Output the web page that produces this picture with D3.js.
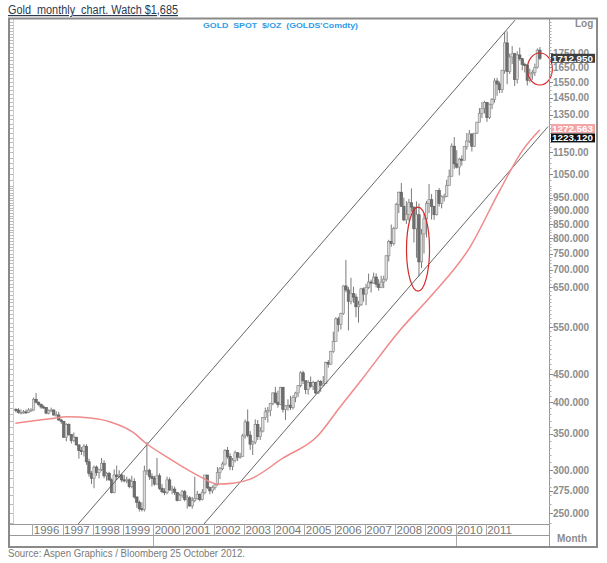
<!DOCTYPE html>
<html><head><meta charset="utf-8">
<script src="https://cdn.jsdelivr.net/npm/d3@7"></script>
<style>
body{margin:0;background:#fff;}
svg{display:block;font-family:Arial,"Liberation Sans",sans-serif;}
</style>
</head><body>
<svg id="c" width="607" height="563"></svg>
<script>
// ---------- DATA ----------
const startYear = 1995, startMonth = 6;   // first candle: June 1995
const firstOpen = 388;
const closes = [
 387,383,383,384,383,387,387,
 405,400,396,392,391,382,386,387,379,379,371,369,
 345,364,349,340,345,334,326,325,332,311,296,290,
 304,297,301,309,293,296,288,273,294,292,294,288,
 287,288,280,286,268,262,255,254,299,300,292,290,
 283,293,278,274,273,288,276,277,273,264,270,274,
 265,267,258,264,266,271,265,273,294,279,275,279,
 282,297,302,308,326,318,305,313,323,317,318,347,
 368,348,335,338,364,346,354,375,384,386,398,416,
 400,396,426,388,394,395,391,408,416,429,453,438,
 422,435,428,435,416,437,430,433,473,470,496,517,
 569,556,582,654,643,613,633,624,599,604,646,632,
 650,665,662,679,659,650,665,673,743,789,783,834,
 923,972,916,865,885,930,913,833,884,724,815,869,
 927,942,916,884,979,927,954,955,1001,1040,1181,1096,
 1081,1118,1113,1179,1207,1244,1181,1248,1307,1357,1386,1421,
 1333,1410,1439,1556,1536,1500,1628,1828,1620,1722,1746,1566,
 1737,1710,1669,1664,1561,1604,1614,1648,1773,1713];
const highs = [
 390,390,388,387,388,390,390,
 408,416,401,398,395,391,388,391,388,385,384,373,
 369,366,366,349,352,345,334,331,335,335,315,299,
 306,306,302,316,313,298,298,290,301,306,300,296,
 294,292,290,293,290,268,264,262,306,338,302,296,
 293,316,296,283,278,292,291,281,280,273,272,276,
 276,270,269,268,292,275,272,277,294,294,280,281,
 284,304,304,311,328,331,322,316,326,324,323,350,
 372,388,354,340,372,371,360,375,391,392,399,417,
 427,420,427,427,395,405,411,412,418,430,456,457,
 438,439,446,438,436,440,439,447,475,478,497,539,
 573,574,584,656,730,651,677,652,633,614,649,650,
 660,689,672,692,690,673,683,683,745,795,848,840,
 930,975,1011,950,936,945,988,915,935,927,832,888,
 937,1007,965,917,980,990,960,966,1025,1070,1195,1227,
 1161,1125,1136,1181,1249,1265,1245,1249,1310,1387,1424,1431,
 1424,1414,1448,1575,1577,1552,1632,1912,1921,1747,1803,1753,
 1764,1792,1714,1681,1670,1640,1631,1674,1786,1796];
const lows = [
 383,381,380,381,381,382,384,
 386,398,394,389,389,380,380,384,378,377,370,365,
 344,339,347,336,338,333,315,320,318,307,292,283,
 278,293,290,299,290,287,287,272,272,288,290,285,
 285,284,278,278,266,256,252,252,252,294,288,280,
 281,282,276,272,270,271,275,271,270,263,264,267,
 263,255,257,255,262,265,263,264,271,277,271,272,
 276,281,289,300,306,315,300,300,310,312,315,318,
 343,345,327,320,335,341,341,352,371,367,377,395,
 398,391,395,383,371,386,387,388,400,409,426,432,
 414,413,425,421,414,414,418,428,432,463,468,493,
 517,539,544,579,637,542,605,609,573,560,601,612,
 603,646,636,660,650,641,648,648,667,725,772,776,
 832,890,916,860,850,862,895,786,737,681,705,750,
 803,890,866,865,881,915,908,935,953,1000,1040,1073,
 1075,1044,1088,1113,1164,1197,1155,1178,1243,1306,1330,1356,
 1309,1325,1381,1420,1462,1478,1480,1605,1535,1603,1671,1523,
 1540,1695,1628,1613,1527,1547,1564,1589,1640,1700];

// moving average
const maDates  = [1995.44,1996.6,1997.16,1997.92,1998.58,1999.34,1999.74,2000.46,2000.99,2001.55,2002.12,2002.64,2003.21,2004.30,2005.42,2006.18,2006.84,2008.17,2009.16,2010.48,2011.47,2012.23,2012.79];
const maValues = [366,373,376,374,368,352,337,317,304,292,283,284,289,316,346,392,436,543,624,771,981,1163,1266];

// trend channel
const upperDates = [1997.49, 2011.97], upperValues = [238, 2013];
const lowerDates = [2001.65, 2013.06], lowerValues = [238, 1283];

// ellipse annotations (centre date / price)
const noteDates = [2008.76, 2012.79], noteValues = [764, 1637];

const yearLabels = [1996,1997,1998,1999,2000,2001,2002,2003,2004,2005,2006,2007,2008,2009,2010,2011];
const decadeMarks = [2000, 2010];
const priceTicks = [1750,1650,1550,1450,1350,1150,1050,950,900,850,800,750,700,650,550,450,400,350,300,275,250];
const priceTickLabels = ["1750.00","1650.00","1550.00","1450.00","1350.00","1150.00","1050.00","950.000","900.000","850.000","800.000","750.000","700.000","650.000","550.000","450.000","400.000","350.000","300.000","275.000","250.000"];
const boxValues = [1712.95, 1272.563, 1223.12];
const boxLabels = ["1712.950", "1272.563", "1223.120"];

// ---------- LAYOUT ----------
const svg = d3.select("#c");
const L = 14, R = 549, T = 18, B = 524;
const x = d3.scaleLinear().domain([1995.395, 2013.093]).range([L, R]);
const y = d3.scaleLog().domain([239, 2031]).range([B, T]);

svg.append("defs").append("clipPath").attr("id","plot")
  .append("rect").attr("x",L).attr("y",T).attr("width",R-L).attr("height",B-T);

// title
svg.append("text").attr("x",8).attr("y",14).attr("font-size",12)
  .attr("fill","#2c3850").attr("text-decoration","underline")
  .attr("textLength",170).attr("lengthAdjust","spacingAndGlyphs")
  .style("white-space","pre").text("Gold  monthly  chart. Watch $1,685");

// header
svg.append("text").attr("x",203).attr("y",28).attr("font-size",8).attr("font-weight","bold")
  .attr("fill","#2f9be8").attr("textLength",155).attr("lengthAdjust","spacingAndGlyphs")
  .style("white-space","pre").text("GOLD  SPOT  $/OZ  (GOLDS'Comdty)");

// source
svg.append("text").attr("x",8).attr("y",557).attr("font-size",10).attr("fill","#7a7a7a")
  .attr("textLength",237).attr("lengthAdjust","spacingAndGlyphs")
  .text("Source: Aspen Graphics / Bloomberg 25 October 2012.");

// candles
const candles = closes.map((c,i)=>{
  const m = startMonth - 1 + i;
  const t = startYear + (m + 0.5)/12;
  return {t, o: i===0 ? firstOpen : closes[i-1], h: highs[i], l: lows[i], c};
});
const g = svg.append("g").attr("clip-path","url(#plot)");
const bw = 2.4;
g.selectAll("line.wick").data(candles).join("line").attr("class","wick")
  .attr("x1",d=>x(d.t)).attr("x2",d=>x(d.t))
  .attr("y1",d=>y(d.h)).attr("y2",d=>y(d.l))
  .attr("stroke","#7a7a7a").attr("stroke-width",1);
g.selectAll("rect.body").data(candles).join("rect").attr("class","body")
  .attr("x",d=>x(d.t)-bw/2).attr("width",bw)
  .attr("y",d=>y(Math.max(d.o,d.c)))
  .attr("height",d=>Math.max(1, y(Math.min(d.o,d.c))-y(Math.max(d.o,d.c))))
  .attr("fill",d=>d.c>=d.o ? "#dcdcdc" : "#707070")
  .attr("stroke",d=>d.c>=d.o ? "#8e8e8e" : "#5e5e5e").attr("stroke-width",0.7);

// channel lines
[[upperDates,upperValues],[lowerDates,lowerValues]].forEach(([ds,vs])=>{
  g.append("line").attr("x1",x(ds[0])).attr("y1",y(vs[0])).attr("x2",x(ds[1])).attr("y2",y(vs[1]))
    .attr("stroke","#555").attr("stroke-width",0.9);
});

// moving average
g.append("path").datum(maDates.map((d,i)=>[d,maValues[i]]))
  .attr("d", d3.line().x(d=>x(d[0])).y(d=>y(d[1])).curve(d3.curveMonotoneX))
  .attr("fill","none").attr("stroke","#f08a8a").attr("stroke-width",1.5);

// ellipses
const ell = [[11.5,42],[12.5,16]];
noteDates.forEach((d,i)=>{
  svg.append("ellipse").attr("cx",x(d)).attr("cy",y(noteValues[i]))
    .attr("rx",ell[i][0]).attr("ry",ell[i][1])
    .attr("fill","none").attr("stroke","#d42a2a").attr("stroke-width",1.2);
});

// right axis
const axG = svg.append("g");
axG.append("line").attr("x1",R+0.5).attr("x2",R+0.5).attr("y1",T).attr("y2",547).attr("stroke","#999");
const minor = [];
for (let v=240; v<1000; v+=10) minor.push(v);
for (let v=1000; v<=2000; v+=25) minor.push(v);
axG.selectAll("line.mn").data(minor.filter(v=>y(v)>=T&&y(v)<=B)).join("line").attr("class","mn")
  .attr("x1",R).attr("x2",R+2.5).attr("y1",d=>Math.round(y(d))+0.5).attr("y2",d=>Math.round(y(d))+0.5)
  .attr("stroke","#aaa");
axG.selectAll("line.mj").data(priceTicks).join("line").attr("class","mj")
  .attr("x1",R).attr("x2",R+4).attr("y1",d=>Math.round(y(d))+0.5).attr("y2",d=>Math.round(y(d))+0.5)
  .attr("stroke","#888");
axG.selectAll("text.pl").data(priceTicks).join("text").attr("class","pl")
  .attr("x",R+4).attr("y",d=>y(d)).attr("dy","0.36em")
  .attr("font-size",10).attr("font-weight","bold").attr("fill","#8c8c8c")
  .text((d,i)=>priceTickLabels[i]);

// left tick strip
svg.append("line").attr("x1",13.5).attr("x2",13.5).attr("y1",T).attr("y2",B).attr("stroke","#ccc");
svg.selectAll("line.lt").data(minor.filter(v=>y(v)>=T&&y(v)<=B)).join("line").attr("class","lt")
  .attr("x1",10).attr("x2",13).attr("y1",d=>Math.round(y(d))+0.5).attr("y2",d=>Math.round(y(d))+0.5)
  .attr("stroke","#bbb");

// value boxes
const boxFill = ["#3d3d3d","#f4a4a4","#111111"];
boxValues.forEach((v,i)=>{
  const cy = y(v);
  svg.append("rect").attr("x",R+2).attr("y",cy-4.5).attr("width",44).attr("height",9).attr("fill",boxFill[i]);
  svg.append("text").attr("x",R+3).attr("y",cy).attr("dy","0.36em")
    .attr("font-size",9.5).attr("font-weight","bold").attr("fill","#fff")
    .attr("textLength",41).attr("lengthAdjust","spacingAndGlyphs").text(boxLabels[i]);
});

svg.append("text").attr("x",575).attr("y",27).attr("font-size",10).attr("font-weight","bold")
  .attr("fill","#8c8c8c").text("Log");
svg.append("text").attr("x",557).attr("y",542).attr("font-size",10).attr("font-weight","bold")
  .attr("fill","#8c8c8c").text("Month");

// x axis band
svg.append("line").attr("x1",9).attr("x2",R).attr("y1",524.5).attr("y2",524.5).attr("stroke","#999");
svg.append("line").attr("x1",9).attr("x2",R).attr("y1",535.5).attr("y2",535.5).attr("stroke","#999");
svg.selectAll("line.ys").data(yearLabels).join("line").attr("class","ys")
  .attr("x1",d=>Math.round(x(d))+0.5).attr("x2",d=>Math.round(x(d))+0.5)
  .attr("y1",524.5).attr("y2",535.5).attr("stroke","#aaa");
svg.selectAll("text.yl").data(yearLabels).join("text").attr("class","yl")
  .attr("x",d=>x(d)+1.5).attr("y",534).attr("font-size",11.5).attr("fill","#777").text(d=>d);
svg.selectAll("line.dc").data(decadeMarks).join("line").attr("class","dc")
  .attr("x1",d=>Math.round(x(d))+0.5).attr("x2",d=>Math.round(x(d))+0.5)
  .attr("y1",535.5).attr("y2",547).attr("stroke","#aaa");

// outer frame
svg.append("rect").attr("x",9).attr("y",18.5).attr("width",588).attr("height",528.5)
  .attr("fill","none").attr("stroke","#8a8a8a").attr("stroke-width",2);
</script>
</body></html>
